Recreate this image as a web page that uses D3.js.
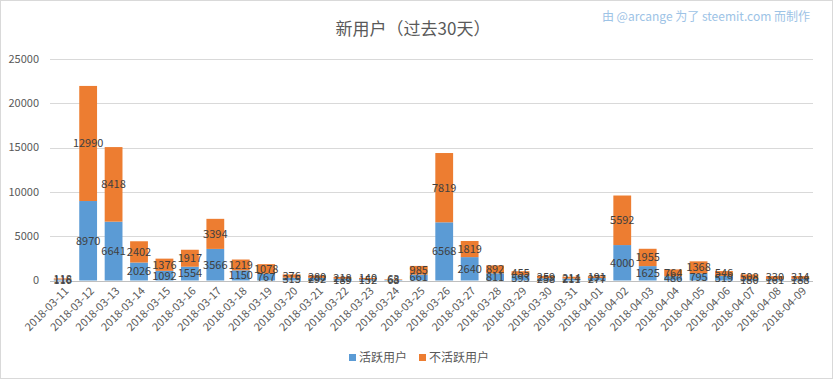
<!DOCTYPE html>
<html><head><meta charset="utf-8">
<script src="https://cdn.jsdelivr.net/npm/d3@7"></script>
<style>body{margin:0;background:#fff;} svg{display:block;}</style>
</head><body>
<svg id="c" width="833" height="379"></svg>
<script>
const dates = ["2018-03-11","2018-03-12","2018-03-13","2018-03-14","2018-03-15","2018-03-16","2018-03-17","2018-03-18","2018-03-19","2018-03-20","2018-03-21","2018-03-22","2018-03-23","2018-03-24","2018-03-25","2018-03-26","2018-03-27","2018-03-28","2018-03-29","2018-03-30","2018-03-31","2018-04-01","2018-04-02","2018-04-03","2018-04-04","2018-04-05","2018-04-06","2018-04-07","2018-04-08","2018-04-09"];
const active =   [116,8970,6641,2026,1092,1554,3566,1150,767,315,292,189,152,68,661,6568,2640,811,593,258,211,277,4000,1625,486,795,519,180,161,188];
const inactive = [118,12990,8418,2402,1376,1917,3394,1219,1078,376,280,218,140,63,985,7819,1819,892,455,259,214,191,5592,1955,764,1368,546,508,330,314];
const yTicks = [0,5000,10000,15000,20000,25000];
const seriesNames = ["活跃用户","不活跃用户"];
const colors = ["#5b9bd5","#ed7d31"];

const font = "'Noto Sans CJK SC','Noto Sans',sans-serif";
const svg = d3.select("#c").style("font-family", font);
svg.append("rect").attr("x",0.5).attr("y",0.5).attr("width",832).attr("height",378)
  .attr("fill","#fff").attr("stroke","#d9d9d9");

const x = d3.scaleBand().domain(dates).range([50, 813]).paddingInner(0.3).paddingOuter(0.15);
const y = d3.scaleLinear().domain([0,25000]).range([280.5, 59]);

// gridlines
svg.append("g").selectAll("line").data(yTicks).join("line")
  .attr("x1",50).attr("x2",813).attr("y1",d=>Math.round(y(d))+0.5).attr("y2",d=>Math.round(y(d))+0.5)
  .attr("stroke",d=>d===0?"#bfbfbf":"#d9d9d9");
svg.append("g").selectAll("text").data(yTicks).join("text")
  .attr("x",39).attr("y",d=>y(d)).attr("dy","0.35em").attr("text-anchor","end")
  .attr("font-size",11).attr("fill","#595959").text(d=>d);

const rows = dates.map((d,i)=>({date:d, a:active[i], b:inactive[i]}));
const stack = d3.stack().keys(["a","b"])(rows);

stack.forEach((s,k)=>{
  svg.append("g").selectAll("rect").data(s).join("rect")
    .attr("x",d=>x(d.data.date)).attr("width",x.bandwidth())
    .attr("y",d=>y(d[1])).attr("height",d=>y(d[0])-y(d[1]))
    .attr("fill",colors[k]);
});
stack.forEach((s,k)=>{
  svg.append("g").selectAll("text").data(s).join("text")
    .attr("x",d=>x(d.data.date)+x.bandwidth()/2).attr("y",d=>(y(d[0])+y(d[1]))/2)
    .attr("dy","0.35em").attr("text-anchor","middle").attr("font-size",11).attr("fill","#404040")
    .text(d=>d[1]-d[0]);
});

// x labels
svg.append("g").selectAll("text").data(dates).join("text")
  .attr("transform",d=>`translate(${x(d)+x.bandwidth()/2+4},289) rotate(-45)`)
  .attr("text-anchor","end").attr("dy","0.35em").attr("font-size",11).attr("fill","#595959").text(d=>d);

// title
svg.append("text").attr("x",413).attr("y",35).attr("text-anchor","middle").attr("font-size",17)
  .attr("fill","#595959").text("新用户（过去30天）");
svg.append("text").attr("x",810).attr("y",21).attr("text-anchor","end").attr("font-size",12)
  .attr("fill","#9dc3e6").text("由 @arcange 为了 steemit.com 而制作");

// legend
const lg = svg.append("g");
const lx = [349, 419];
seriesNames.forEach((n,i)=>{
  lg.append("rect").attr("x",lx[i]).attr("y",354).attr("width",7).attr("height",7).attr("fill",colors[i]);
  lg.append("text").attr("x",lx[i]+10).attr("y",358).attr("dy","0.35em").attr("font-size",12)
    .attr("fill","#595959").text(n);
});
</script>
</body></html>
